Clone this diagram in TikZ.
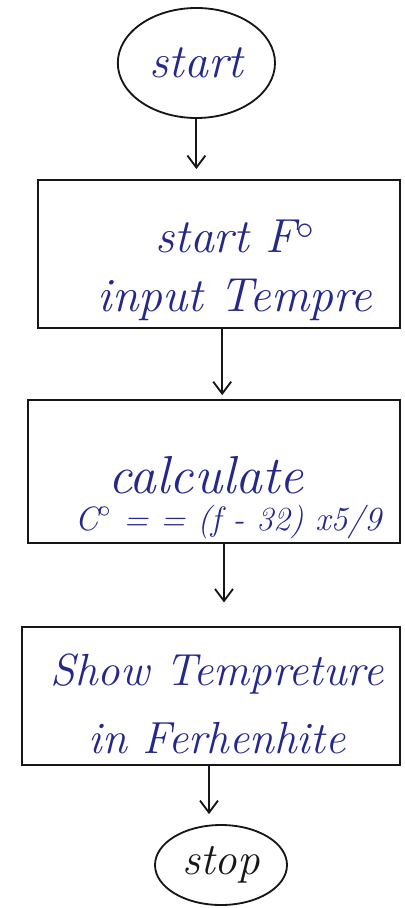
\documentclass[tikz,border=0pt]{standalone}
\definecolor{ink}{RGB}{36,40,138}
\definecolor{pen}{RGB}{22,22,22}
\usepackage{tikz}
\usetikzlibrary{arrows.meta,shapes.geometric,calc}

\begin{document}
\begin{tikzpicture}[
    flowbox/.style={draw=pen,line width=1.3pt,inner sep=0pt},
    termnode/.style={ellipse,draw=pen,line width=1.3pt,inner sep=0pt},
    hand/.style={font=\fontsize{30}{30}\selectfont\itshape,text=ink,align=center},
    flow/.style={draw=pen,line width=1.3pt,-{Straight Barb[length=3mm,width=4.5mm,line width=1.3pt]}}
  ]
  \useasboundingbox (0,0) rectangle (10.1,-22.7);
  \node[termnode,minimum width=3.93cm,minimum height=2.75cm,hand,font=\fontsize{34}{34}\selectfont\itshape] (start) at (4.91,-1.575) {start};
  \node[flowbox,minimum width=9.05cm,minimum height=3.7cm] (inp) at (5.475,-6.35) {};
  \node[hand,font=\fontsize{34}{42}\selectfont\itshape] (inptxt) at ($(inp)+(0.4,-0.4)$) {start F$^{\circ}$\\input Tempre};
  \node[flowbox,minimum width=9.3cm,minimum height=3.575cm] (calc) at (5.35,-11.79) {};
  \node[hand,font=\fontsize{38}{38}\selectfont\itshape] (calctxt) at ($(calc)+(-0.2,-0.1)$) {calculate};
  \node[hand,font=\fontsize{24}{24}\selectfont\itshape] (calcform) at ($(calc)+(0.35,-1.25)$) {C$^{\circ}$ = = (f - 32) x5/9};
  \node[flowbox,minimum width=9.45cm,minimum height=3.43cm] (show) at (5.275,-17.4) {};
  \node[hand,font=\fontsize{32}{48}\selectfont\itshape] (showtxt) at ($(show)+(0.15,-0.2)$) {Show Tempreture\\in Ferhenhite};
  \node[termnode,minimum width=3.3cm,minimum height=2cm,hand,text=pen,font=\fontsize{32}{32}\selectfont\itshape] (stop) at (5.525,-21.625) {stop};
  \draw[flow,shorten >=0.25cm] (start.south) -- (start.south |- inp.north);
  \draw[flow,shorten >=0.1cm] ([xshift=0.08cm]inp.south) -- ([xshift=0.08cm]inp.south |- calc.north);
  \draw[flow,shorten >=0.6cm] ([xshift=0.25cm]calc.south) -- ([xshift=0.25cm]calc.south |- show.north);
  \draw[flow,shorten >=0.25cm] ([xshift=-0.05cm]show.south) -- ([xshift=-0.05cm]show.south |- stop.north);
\end{tikzpicture}
\end{document}
